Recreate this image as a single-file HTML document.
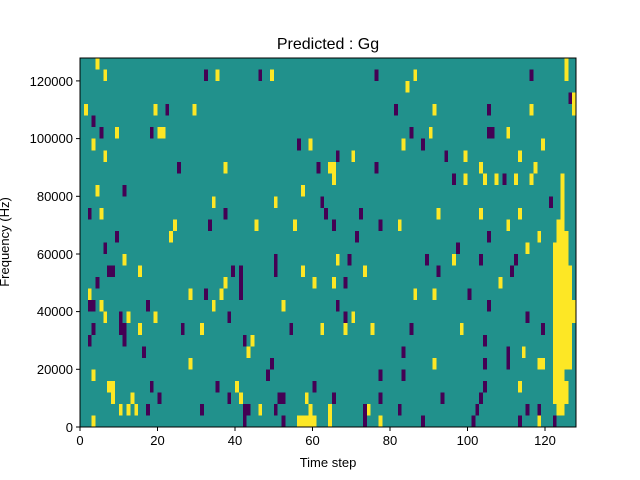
<!DOCTYPE html><html><head><style>body{margin:0;background:#fff}svg{display:block}text{font-family:"Liberation Sans",sans-serif;fill:#000}</style></head><body>
<svg width="640" height="480" xmlns="http://www.w3.org/2000/svg">
<text x="328" y="49" font-size="16" text-anchor="middle">Predicted : Gg</text>
<svg x="80" y="58" width="496" height="369" viewBox="0 0 128 32" preserveAspectRatio="none" shape-rendering="crispEdges">
<rect width="128" height="32" fill="#21918c"/>
<g fill="#fde725">
<rect x="4" y="0" width="1" height="1"/><rect x="125" y="0" width="1" height="2"/>
<rect x="6" y="1" width="1" height="1"/><rect x="35" y="1" width="1" height="1"/><rect x="49" y="1" width="1" height="1"/><rect x="86" y="1" width="1" height="1"/>
<rect x="84" y="2" width="1" height="1"/><rect x="127" y="3" width="1" height="1"/>
<rect x="1" y="4" width="1" height="1"/><rect x="19" y="4" width="1" height="1"/><rect x="29" y="4" width="1" height="1"/><rect x="91" y="4" width="1" height="1"/><rect x="116" y="4" width="1" height="1"/><rect x="127" y="4" width="1" height="1"/>
<rect x="9" y="6" width="1" height="1"/><rect x="20" y="6" width="2" height="1"/><rect x="90" y="6" width="1" height="1"/><rect x="110" y="6" width="1" height="1"/>
<rect x="3" y="7" width="1" height="1"/><rect x="59" y="7" width="1" height="1"/><rect x="83" y="7" width="1" height="1"/><rect x="119" y="7" width="1" height="1"/>
<rect x="6" y="8" width="1" height="1"/><rect x="70" y="8" width="1" height="1"/><rect x="99" y="8" width="1" height="1"/><rect x="113" y="8" width="1" height="1"/>
<rect x="37" y="9" width="1" height="1"/><rect x="64" y="9" width="2" height="1"/><rect x="103" y="9" width="1" height="1"/><rect x="117" y="9" width="1" height="1"/>
<rect x="65" y="10" width="1" height="1"/><rect x="99" y="10" width="1" height="1"/><rect x="104" y="10" width="1" height="1"/><rect x="107" y="10" width="1" height="1"/><rect x="112" y="10" width="1" height="1"/><rect x="116" y="10" width="1" height="1"/><rect x="124" y="10" width="1" height="4"/>
<rect x="57" y="11" width="1" height="1"/><rect x="4" y="11" width="1" height="1"/>
<rect x="34" y="12" width="1" height="1"/><rect x="50" y="12" width="1" height="1"/>
<rect x="5" y="13" width="1" height="1"/><rect x="92" y="13" width="1" height="1"/><rect x="103" y="13" width="1" height="1"/><rect x="113" y="13" width="1" height="1"/>
<rect x="24" y="14" width="1" height="1"/><rect x="45" y="14" width="1" height="1"/><rect x="55" y="14" width="1" height="1"/><rect x="82" y="14" width="1" height="1"/><rect x="110" y="14" width="1" height="1"/><rect x="123" y="14" width="2" height="1"/>
<rect x="23" y="15" width="1" height="1"/><rect x="118" y="15" width="1" height="1"/><rect x="123" y="15" width="3" height="1"/>
<rect x="115" y="16" width="1" height="1"/><rect x="122" y="16" width="4" height="2"/>
<rect x="11" y="17" width="1" height="1"/><rect x="66" y="17" width="1" height="1"/><rect x="96" y="17" width="1" height="1"/>
<rect x="15" y="18" width="1" height="1"/><rect x="57" y="18" width="1" height="1"/><rect x="73" y="18" width="1" height="1"/><rect x="122" y="18" width="5" height="3"/>
<rect x="37" y="19" width="1" height="1"/><rect x="60" y="19" width="1" height="1"/><rect x="65" y="19" width="1" height="1"/><rect x="108" y="19" width="1" height="1"/>
<rect x="2" y="20" width="1" height="1"/><rect x="28" y="20" width="1" height="1"/><rect x="36" y="20" width="1" height="1"/><rect x="86" y="20" width="1" height="1"/><rect x="91" y="20" width="1" height="1"/>
<rect x="5" y="21" width="1" height="1"/><rect x="34" y="21" width="1" height="1"/><rect x="52" y="21" width="1" height="1"/><rect x="122" y="21" width="6" height="2"/>
<rect x="6" y="22" width="1" height="1"/><rect x="12" y="22" width="1" height="1"/><rect x="19" y="22" width="1" height="1"/><rect x="70" y="22" width="1" height="1"/>
<rect x="15" y="23" width="1" height="1"/><rect x="31" y="23" width="1" height="1"/><rect x="62" y="23" width="1" height="1"/><rect x="68" y="23" width="1" height="1"/><rect x="75" y="23" width="1" height="1"/><rect x="98" y="23" width="1" height="1"/><rect x="122" y="23" width="5" height="4"/>
<rect x="44" y="24" width="1" height="1"/><rect x="43" y="25" width="1" height="1"/><rect x="114" y="25" width="1" height="1"/>
<rect x="28" y="26" width="1" height="1"/><rect x="91" y="26" width="1" height="1"/><rect x="118" y="26" width="2" height="1"/>
<rect x="3" y="27" width="1" height="1"/><rect x="122" y="27" width="3" height="1"/>
<rect x="7" y="28" width="2" height="1"/><rect x="40" y="28" width="1" height="1"/><rect x="113" y="28" width="1" height="1"/><rect x="122" y="28" width="4" height="2"/>
<rect x="8" y="29" width="1" height="1"/><rect x="13" y="29" width="1" height="1"/><rect x="41" y="29" width="1" height="1"/><rect x="58" y="29" width="1" height="1"/>
<rect x="10" y="30" width="1" height="1"/><rect x="12" y="30" width="1" height="1"/><rect x="14" y="30" width="1" height="1"/><rect x="46" y="30" width="1" height="1"/><rect x="59" y="30" width="1" height="1"/><rect x="64" y="30" width="1" height="1"/><rect x="74" y="30" width="1" height="1"/><rect x="123" y="30" width="2" height="1"/>
<rect x="3" y="31" width="1" height="1"/><rect x="56" y="31" width="5" height="1"/><rect x="64" y="31" width="1" height="1"/><rect x="77" y="31" width="1" height="1"/><rect x="118" y="31" width="1" height="1"/>
</g>
<g fill="#440154">
<rect x="32" y="1" width="1" height="1"/><rect x="46" y="1" width="1" height="1"/><rect x="76" y="1" width="1" height="1"/><rect x="116" y="1" width="1" height="1"/><rect x="126" y="3" width="1" height="1"/>
<rect x="22" y="4" width="1" height="1"/><rect x="81" y="4" width="1" height="1"/><rect x="105" y="4" width="1" height="1"/><rect x="3" y="5" width="1" height="1"/>
<rect x="5" y="6" width="1" height="1"/><rect x="18" y="6" width="1" height="1"/><rect x="85" y="6" width="1" height="1"/><rect x="105" y="6" width="2" height="1"/>
<rect x="56" y="7" width="1" height="1"/><rect x="88" y="7" width="1" height="1"/><rect x="66" y="8" width="1" height="1"/><rect x="94" y="8" width="1" height="1"/>
<rect x="25" y="9" width="1" height="1"/><rect x="61" y="9" width="1" height="1"/><rect x="76" y="9" width="1" height="1"/><rect x="96" y="10" width="1" height="1"/><rect x="109" y="10" width="1" height="1"/>
<rect x="11" y="11" width="1" height="1"/><rect x="62" y="12" width="1" height="1"/><rect x="121" y="12" width="1" height="1"/>
<rect x="2" y="13" width="1" height="1"/><rect x="37" y="13" width="1" height="1"/><rect x="63" y="13" width="1" height="1"/><rect x="72" y="13" width="1" height="1"/>
<rect x="33" y="14" width="1" height="1"/><rect x="65" y="14" width="1" height="1"/><rect x="77" y="14" width="1" height="1"/>
<rect x="9" y="15" width="1" height="1"/><rect x="71" y="15" width="1" height="1"/><rect x="105" y="15" width="1" height="1"/><rect x="6" y="16" width="1" height="1"/><rect x="97" y="16" width="1" height="1"/>
<rect x="50" y="17" width="1" height="2"/><rect x="69" y="17" width="1" height="1"/><rect x="89" y="17" width="1" height="1"/><rect x="103" y="17" width="1" height="1"/><rect x="112" y="17" width="1" height="1"/>
<rect x="7" y="18" width="2" height="1"/><rect x="39" y="18" width="1" height="1"/><rect x="41" y="18" width="1" height="3"/><rect x="92" y="18" width="1" height="1"/><rect x="111" y="18" width="1" height="1"/>
<rect x="4" y="19" width="1" height="1"/><rect x="68" y="19" width="1" height="1"/><rect x="32" y="20" width="1" height="1"/><rect x="100" y="20" width="1" height="1"/>
<rect x="2" y="21" width="2" height="1"/><rect x="17" y="21" width="1" height="1"/><rect x="66" y="21" width="1" height="1"/><rect x="105" y="21" width="1" height="1"/>
<rect x="10" y="22" width="1" height="1"/><rect x="38" y="22" width="1" height="1"/><rect x="68" y="22" width="1" height="1"/><rect x="115" y="22" width="1" height="1"/>
<rect x="3" y="23" width="1" height="1"/><rect x="10" y="23" width="2" height="1"/><rect x="26" y="23" width="1" height="1"/><rect x="54" y="23" width="1" height="1"/><rect x="85" y="23" width="1" height="1"/><rect x="119" y="23" width="1" height="1"/>
<rect x="2" y="24" width="1" height="1"/><rect x="11" y="24" width="1" height="1"/><rect x="42" y="24" width="1" height="1"/><rect x="104" y="24" width="1" height="1"/>
<rect x="16" y="25" width="1" height="1"/><rect x="83" y="25" width="1" height="1"/><rect x="110" y="25" width="1" height="2"/><rect x="49" y="26" width="1" height="1"/><rect x="104" y="26" width="1" height="1"/>
<rect x="48" y="27" width="1" height="1"/><rect x="77" y="27" width="1" height="1"/><rect x="83" y="27" width="1" height="1"/>
<rect x="18" y="28" width="1" height="1"/><rect x="35" y="28" width="1" height="1"/><rect x="60" y="28" width="1" height="1"/><rect x="104" y="28" width="1" height="1"/>
<rect x="20" y="29" width="1" height="1"/><rect x="38" y="29" width="1" height="1"/><rect x="51" y="29" width="2" height="1"/><rect x="65" y="29" width="1" height="1"/><rect x="77" y="29" width="1" height="1"/><rect x="93" y="29" width="1" height="1"/><rect x="103" y="29" width="1" height="1"/>
<rect x="17" y="30" width="1" height="1"/><rect x="31" y="30" width="1" height="1"/><rect x="42" y="30" width="2" height="1"/><rect x="50" y="30" width="1" height="1"/><rect x="73" y="30" width="1" height="1"/><rect x="82" y="30" width="1" height="1"/><rect x="102" y="30" width="1" height="1"/><rect x="115" y="30" width="1" height="1"/><rect x="118" y="30" width="1" height="1"/>
<rect x="42" y="31" width="1" height="1"/><rect x="52" y="31" width="1" height="1"/><rect x="73" y="31" width="1" height="1"/><rect x="88" y="31" width="1" height="1"/><rect x="101" y="31" width="1" height="1"/><rect x="113" y="31" width="1" height="1"/><rect x="122" y="31" width="1" height="1"/>
</g>
</svg>
<rect x="80" y="58" width="496" height="369" fill="none" stroke="#000" stroke-width="1"/>
<g stroke="#000" stroke-width="1">
<line x1="80" y1="427" x2="80" y2="431"/><line x1="157.5" y1="427" x2="157.5" y2="431"/><line x1="235" y1="427" x2="235" y2="431"/><line x1="312.5" y1="427" x2="312.5" y2="431"/><line x1="390" y1="427" x2="390" y2="431"/><line x1="467.5" y1="427" x2="467.5" y2="431"/><line x1="545" y1="427" x2="545" y2="431"/>
<line x1="76" y1="427" x2="80" y2="427"/><line x1="76" y1="369.3" x2="80" y2="369.3"/><line x1="76" y1="311.6" x2="80" y2="311.6"/><line x1="76" y1="254" x2="80" y2="254"/><line x1="76" y1="196.3" x2="80" y2="196.3"/><line x1="76" y1="138.6" x2="80" y2="138.6"/><line x1="76" y1="80.9" x2="80" y2="80.9"/>
</g>
<g font-size="13" text-anchor="middle">
<text x="80" y="445">0</text><text x="157.5" y="445">20</text><text x="235" y="445">40</text><text x="312.5" y="445">60</text><text x="390" y="445">80</text><text x="467.5" y="445">100</text><text x="545" y="445">120</text>
</g>
<g font-size="13" text-anchor="end">
<text x="73" y="432">0</text><text x="73" y="374">20000</text><text x="73" y="316">40000</text><text x="73" y="259">60000</text><text x="73" y="201">80000</text><text x="73" y="143">100000</text><text x="73" y="86">120000</text>
</g>
<text x="328" y="467" font-size="13" text-anchor="middle">Time step</text>
<text transform="translate(9,242) rotate(-90)" font-size="13" text-anchor="middle">Frequency (Hz)</text>
</svg>
</body></html>
